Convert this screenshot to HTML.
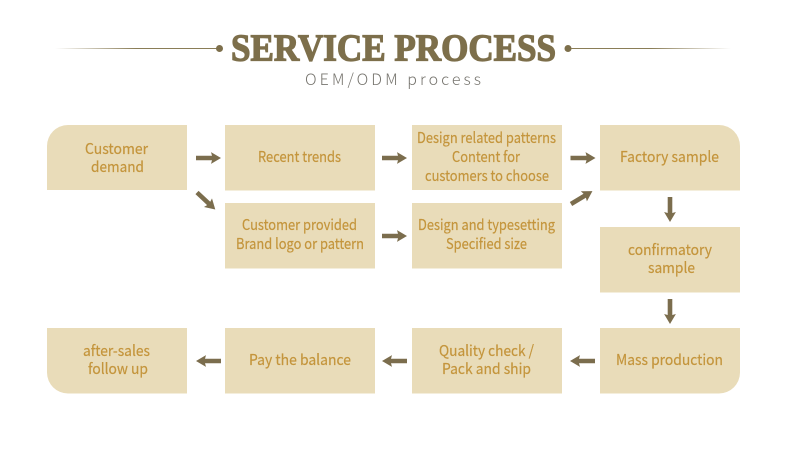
<!DOCTYPE html>
<html lang="en">
<head>
<meta charset="utf-8">
<title>Service Process</title>
<style>
html,body{margin:0;padding:0;background:#fff;width:787px;height:473px;overflow:hidden}
svg{display:block}
.l{font-family:"Noto Sans CJK SC","Liberation Sans",sans-serif;font-size:14.8px;font-weight:400;fill:#c4953c;stroke:#c4953c;stroke-width:.2px}
</style>
</head>
<body>
<svg width="787" height="473" viewBox="0 0 787 473" xmlns="http://www.w3.org/2000/svg">
<defs>
<linearGradient id="gl" x1="0" x2="1" y1="0" y2="0"><stop offset="0" stop-color="#8a7d57" stop-opacity="0"/><stop offset="0.5" stop-color="#8a7d57"/><stop offset="1" stop-color="#8a7d57"/></linearGradient>
<linearGradient id="gr" x1="0" x2="1" y1="0" y2="0"><stop offset="0" stop-color="#8a7d57"/><stop offset="0.5" stop-color="#8a7d57"/><stop offset="1" stop-color="#8a7d57" stop-opacity="0"/></linearGradient>
<polygon id="a" points="0,-2.300 16,-2.300 15,-5.900 25,0 15,5.900 16,2.300 0,2.300" fill="#7b6d4d"/>
</defs>

<rect x="55" y="48" width="162" height="1" fill="url(#gl)"/>
<circle cx="219.500" cy="48.500" r="3.500" fill="#7d6f4b"/>
<circle cx="568" cy="48.500" r="3.500" fill="#7d6f4b"/>
<rect x="571" y="48" width="160" height="1" fill="url(#gr)"/>

<text x="231" y="60.500" textLength="325" lengthAdjust="spacingAndGlyphs" font-family="'Liberation Serif',serif" font-weight="700" font-size="38" fill="#7d6f4b" stroke="#7d6f4b" stroke-width="1.300">SERVICE PROCESS</text>
<text x="305" y="85" textLength="176" font-family="'Noto Sans CJK SC','Liberation Sans',sans-serif" font-weight="300" font-size="16" fill="#77756f">OEM/ODM process</text>

<g fill="#e9dcb9">
<path d="M68 125H187V190H47V146A21 21 0 0 1 68 125Z"/>
<rect x="225" y="125" width="150" height="65.500"/>
<rect x="412" y="125" width="150" height="65"/>
<path d="M600 125H719A21 21 0 0 1 740 146V190.500H600Z"/>
<rect x="225" y="203" width="150" height="65.500"/>
<rect x="412" y="203" width="150" height="65.500"/>
<rect x="600" y="227" width="140" height="65.500"/>
<path d="M47 328H187V393.500H68A21 21 0 0 1 47 372.500Z"/>
<rect x="225" y="328" width="150" height="65.500"/>
<rect x="412" y="328" width="150" height="65.500"/>
<path d="M600 328H740V372.500A21 21 0 0 1 719 393.500H600Z"/>
</g>

<use href="#a" transform="translate(196 158)"/>
<use href="#a" transform="translate(382 158)"/>
<use href="#a" transform="translate(570.500 158)"/>
<use href="#a" transform="translate(382 236)"/>
<use href="#a" transform="translate(197 192.500) rotate(43)"/>
<use href="#a" transform="translate(571 204) rotate(-31)"/>
<use href="#a" transform="translate(670 197) rotate(90)"/>
<use href="#a" transform="translate(670 299) rotate(90)"/>
<use href="#a" transform="translate(595 361) rotate(180)"/>
<use href="#a" transform="translate(407 361) rotate(180)"/>
<use href="#a" transform="translate(221 361) rotate(180)"/>

<text class="l" x="85" y="154" textLength="63" lengthAdjust="spacingAndGlyphs">Customer</text>
<text class="l" x="91" y="172" textLength="53" lengthAdjust="spacingAndGlyphs">demand</text>
<text class="l" x="258" y="162" textLength="83" lengthAdjust="spacingAndGlyphs">Recent trends</text>
<text class="l" x="417" y="143" textLength="139" lengthAdjust="spacingAndGlyphs">Design related patterns</text>
<text class="l" x="452" y="162" textLength="68" lengthAdjust="spacingAndGlyphs">Content for</text>
<text class="l" x="425" y="181" textLength="124" lengthAdjust="spacingAndGlyphs">customers to choose</text>
<text class="l" x="620" y="162" textLength="99" lengthAdjust="spacingAndGlyphs">Factory sample</text>
<text class="l" x="242" y="230" textLength="115" lengthAdjust="spacingAndGlyphs">Customer provided</text>
<text class="l" x="236" y="249" textLength="128" lengthAdjust="spacingAndGlyphs">Brand logo or pattern</text>
<text class="l" x="418" y="230" textLength="137" lengthAdjust="spacingAndGlyphs">Design and typesetting</text>
<text class="l" x="446" y="249" textLength="81" lengthAdjust="spacingAndGlyphs">Specified size</text>
<text class="l" x="628" y="255" textLength="84" lengthAdjust="spacingAndGlyphs">confirmatory</text>
<text class="l" x="648" y="273" textLength="47" lengthAdjust="spacingAndGlyphs">sample</text>
<text class="l" x="616" y="365" textLength="107" lengthAdjust="spacingAndGlyphs">Mass production</text>
<text class="l" x="439" y="356" textLength="95" lengthAdjust="spacingAndGlyphs">Quality check /</text>
<text class="l" x="442" y="374" textLength="89" lengthAdjust="spacingAndGlyphs">Pack and ship</text>
<text class="l" x="249" y="365" textLength="102" lengthAdjust="spacingAndGlyphs">Pay the balance</text>
<text class="l" x="83" y="356" textLength="67" lengthAdjust="spacingAndGlyphs">after-sales</text>
<text class="l" x="88" y="374" textLength="60" lengthAdjust="spacingAndGlyphs">follow up</text>
</svg>
</body>
</html>
